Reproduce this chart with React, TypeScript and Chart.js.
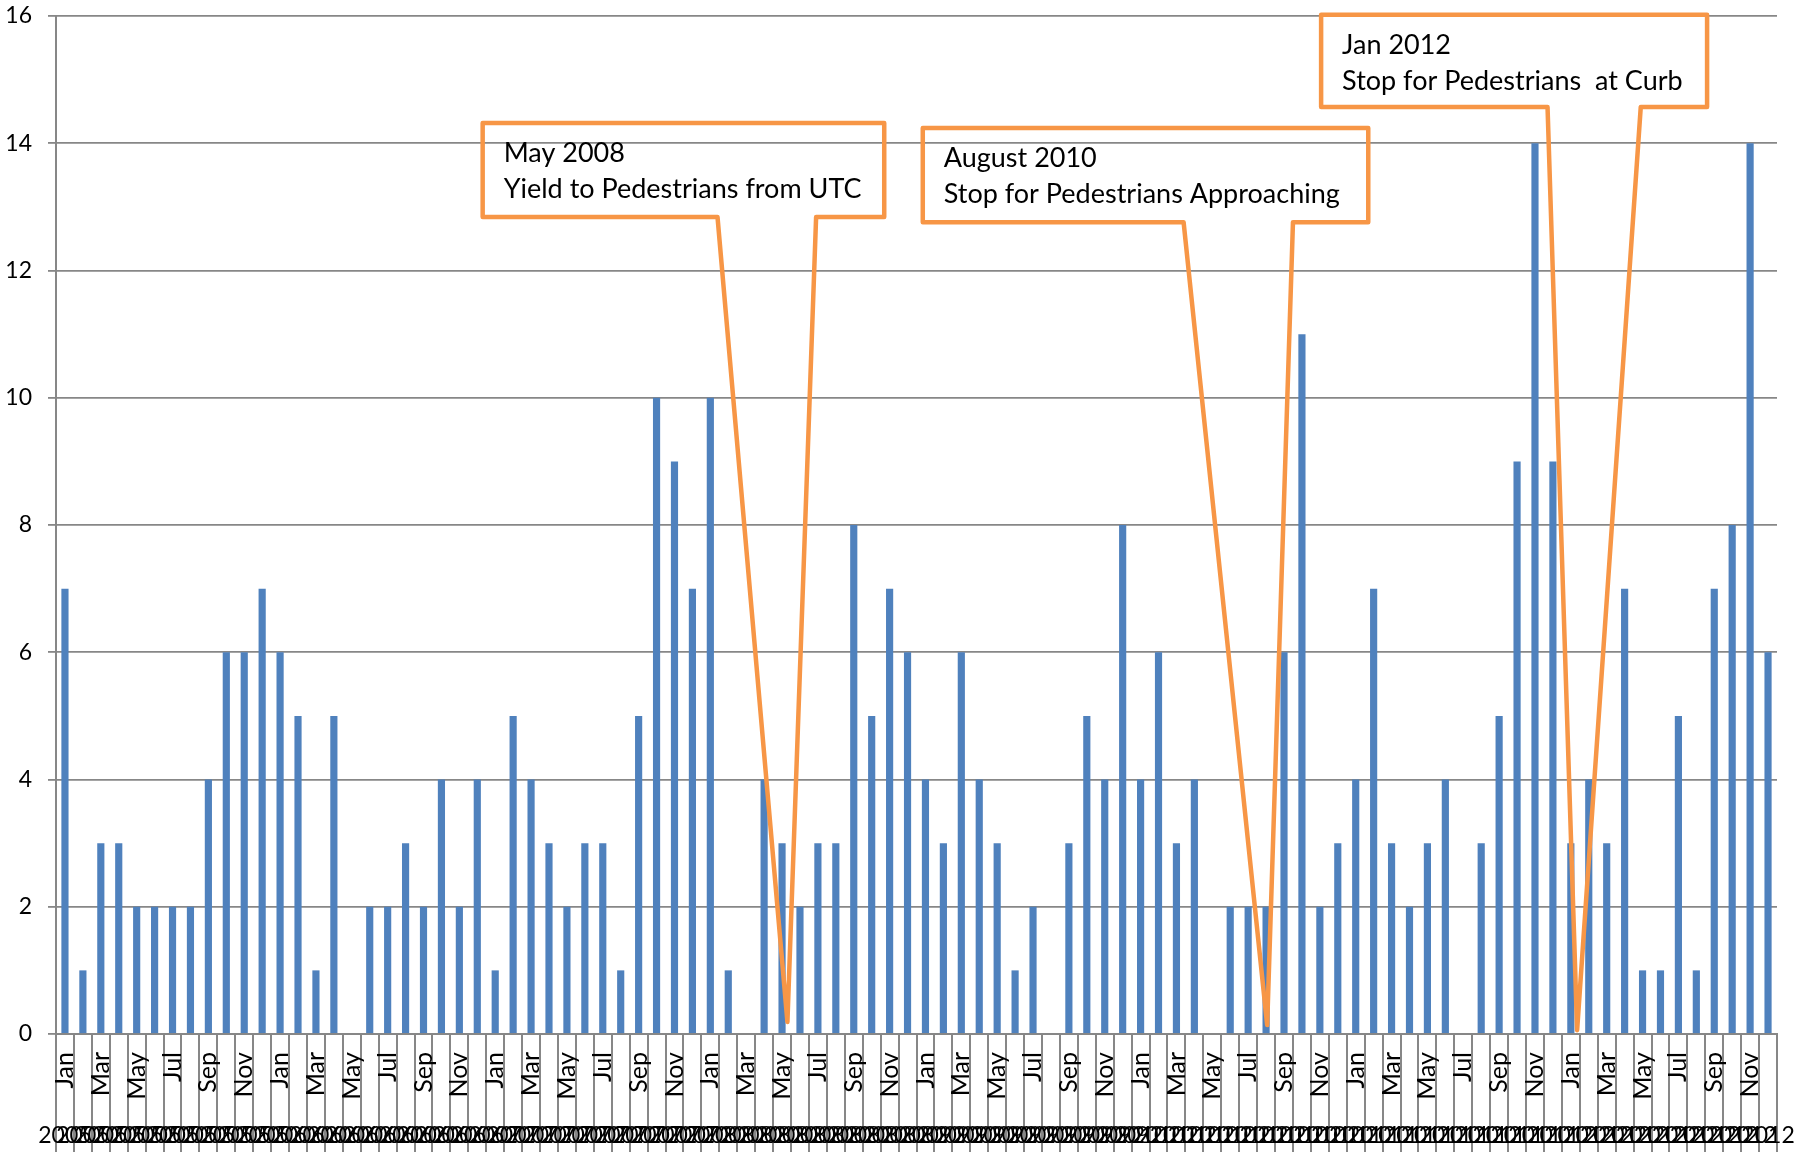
import React, { useEffect, useRef } from "react";
import { Chart, registerables } from "chart.js";

Chart.register(...registerables);

// ---- data ----
const years = ["2005", "2006", "2007", "2008", "2009", "2010", "2011", "2012"];
const monthNames = ["Jan", "Feb", "Mar", "Apr", "May", "Jun", "Jul", "Aug", "Sep", "Oct", "Nov", "Dec"];

const counts2005 = [7, 1, 3, 3, 2, 2, 2, 2, 4, 6, 6, 7];
const counts2006 = [6, 5, 1, 5, 0, 2, 2, 3, 2, 4, 2, 4];
const counts2007 = [1, 5, 4, 3, 2, 3, 3, 1, 5, 10, 9, 7];
const counts2008 = [10, 1, 0, 4, 3, 2, 3, 3, 8, 5, 7, 6];
const counts2009 = [4, 3, 6, 4, 3, 1, 2, 0, 3, 5, 4, 8];
const counts2010 = [4, 6, 3, 4, 0, 2, 2, 2, 6, 11, 2, 3];
const counts2011 = [4, 7, 3, 2, 3, 4, 0, 3, 5, 9, 14, 9];
const counts2012 = [3, 4, 3, 7, 1, 1, 5, 1, 7, 8, 14, 6];

const yMin = 0;
const yMax = 16;
const yStep = 2;

// callouts: box [left idx, top val, right idx, bottom val], tail base idx [left, right], tip [idx, val]
const calloutTexts = [
  ["May 2008", "Yield to Pedestrians from UTC"],
  ["August 2010", "Stop for Pedestrians Approaching"],
  ["Jan 2012", "Stop for Pedestrians  at Curb"],
];
const calloutBoxes = [
  [23.3, 14.32, 45.7, 12.84],
  [47.85, 14.24, 72.7, 12.76],
  [70.07, 16.02, 91.6, 14.57],
];
const calloutTailBases = [
  [36.4, 41.9],
  [62.4, 68.5],
  [82.7, 87.9],
];
const calloutTips = [
  [40.3, 0.19],
  [67.06, 0.14],
  [84.35, 0.06],
];

const monthLabels = years.flatMap(() => monthNames);
const yearLabels = years.flatMap((y) => monthNames.map(() => y));
const counts = [
  ...counts2005, ...counts2006, ...counts2007, ...counts2008,
  ...counts2009, ...counts2010, ...counts2011, ...counts2012,
];

const FONT = "Lato";
const GRID = "#878787";

const calloutPlugin = {
  id: "callouts",
  afterDraw(chart: any) {
    const ctx = chart.ctx;
    const xs = chart.scales.x;
    const ys = chart.scales.y;
    ctx.save();
    calloutTexts.forEach((lines, i) => {
      const [l, t, r, b] = calloutBoxes[i];
      const L = xs.getPixelForValue(l);
      const R = xs.getPixelForValue(r);
      const T = ys.getPixelForValue(t);
      const B = ys.getPixelForValue(b);
      const bl = xs.getPixelForValue(calloutTailBases[i][0]);
      const br = xs.getPixelForValue(calloutTailBases[i][1]);
      const tx = xs.getPixelForValue(calloutTips[i][0]);
      const ty = ys.getPixelForValue(calloutTips[i][1]);
      ctx.beginPath();
      ctx.moveTo(L, T);
      ctx.lineTo(R, T);
      ctx.lineTo(R, B);
      ctx.lineTo(br, B);
      ctx.lineTo(tx, ty);
      ctx.lineTo(bl, B);
      ctx.lineTo(L, B);
      ctx.closePath();
      ctx.lineWidth = 4.5;
      ctx.lineJoin = "round";
      ctx.strokeStyle = "#F79646";
      ctx.stroke();
      ctx.fillStyle = "#000000";
      ctx.font = `27px ${FONT}`;
      ctx.textAlign = "left";
      ctx.textBaseline = "alphabetic";
      lines.forEach((line, k) => {
        ctx.fillText(line, L + 21, T + 39 + k * 36);
      });
    });
    ctx.restore();
  },
};

export default function App() {
  const canvasRef = useRef<HTMLCanvasElement | null>(null);

  useEffect(() => {
    const canvas = canvasRef.current;
    if (!canvas) return;
    const chart = new Chart(canvas, {
      type: "bar",
      data: {
        labels: monthLabels,
        datasets: [
          {
            data: counts,
            backgroundColor: "#4F81BD",
            borderWidth: 0,
            barPercentage: 0.4,
            categoryPercentage: 1,
            xAxisID: "x",
            yAxisID: "y",
          },
        ],
      },
      options: {
        animation: false,
        responsive: false,
        devicePixelRatio: 1,
        layout: { padding: { top: 16, right: 20, bottom: 0, left: 0 } },
        plugins: {
          legend: { display: false },
          tooltip: { enabled: false },
        },
        scales: {
          y: {
            min: yMin,
            max: yMax,
            ticks: {
              stepSize: yStep,
              color: "#000",
              font: { family: FONT, size: 23 },
              padding: 16,
            },
            grid: { color: GRID, lineWidth: 1.8, tickLength: 8, drawTicks: true },
            border: { color: GRID, width: 2 },
            afterFit: (s: any) => {
              s.width = 56;
              s.paddingTop = 0;
              s.paddingBottom = 0;
            },
          },
          x: {
            type: "category",
            offset: true,
            position: "bottom",
            grid: {
              offset: true,
              drawOnChartArea: false,
              drawTicks: true,
              tickLength: 118,
              color: GRID,
              lineWidth: 2,
            },
            border: { color: GRID, width: 2 },
            ticks: {
              autoSkip: false,
              minRotation: 90,
              maxRotation: 90,
              padding: -100,
              color: "#000",
              font: { family: FONT, size: 25 },
              callback: (_v: any, i: number) => (i % 2 === 0 ? monthLabels[i] : ""),
            },
            afterFit: (s: any) => {
              s.height = 88;
            },
          },
          x2: {
            type: "category",
            labels: yearLabels,
            offset: true,
            position: "bottom",
            grid: { display: false, drawTicks: false, tickLength: 0 },
            border: { display: false },
            ticks: {
              autoSkip: false,
              minRotation: 0,
              maxRotation: 0,
              padding: 0,
              color: "#000",
              font: { family: FONT, size: 23 },
            },
            afterFit: (s: any) => {
              s.height = 30;
            },
          },
        },
      },
      plugins: [calloutPlugin],
    } as any);
    return () => chart.destroy();
  }, []);

  return (
    <div style={{ position: "fixed", left: 0, top: 0, width: 1797, height: 1152, background: "#fff" }}>
      <canvas ref={canvasRef} width={1797} height={1152} style={{ display: "block", width: 1797, height: 1152 }} />
    </div>
  );
}
